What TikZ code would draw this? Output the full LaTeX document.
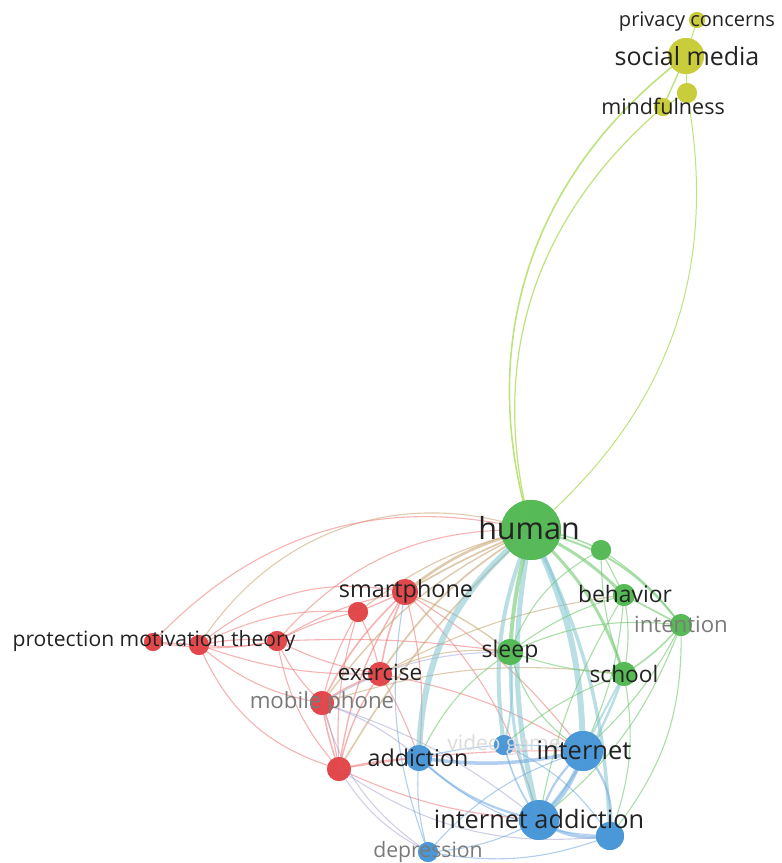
\documentclass[tikz,border=0pt]{standalone}
\usepackage{fontspec}
\setmainfont{Open Sans}
\definecolor{ycol}{HTML}{C9CD3A}
\definecolor{gcol}{HTML}{55B955}
\definecolor{rcol}{HTML}{E2474A}
\definecolor{bcol}{HTML}{4A97D8}
\definecolor{cer}{HTML}{F08080}
\definecolor{ceg}{HTML}{70C870}
\definecolor{ceb}{HTML}{70A8E0}
\definecolor{cet}{HTML}{80C4D0}
\definecolor{ceo}{HTML}{C8A878}
\definecolor{cey}{HTML}{A8D850}
\definecolor{cep}{HTML}{A0A0D0}
\definecolor{labc}{HTML}{222222}
\definecolor{labg}{HTML}{7A7A7A}
\tikzset{
  nd/.style={circle,inner sep=0pt,draw=none,fill opacity=0.9,minimum size=#1},
  yn/.style={nd=#1,fill=ycol},
  gn/.style={nd=#1,fill=gcol},
  rn/.style={nd=#1,fill=rcol},
  bn/.style={nd=#1,fill=bcol},
  er/.style={draw=cer,line width=#1,draw opacity=0.6},
  er/.default=1.1,
  eg/.style={draw=ceg,line width=#1,draw opacity=0.6},
  eg/.default=1.1,
  eb/.style={draw=ceb,line width=#1,draw opacity=0.55},
  eb/.default=1.1,
  et/.style={draw=cet,line width=#1,draw opacity=0.55},
  et/.default=1.2,
  eo/.style={draw=ceo,line width=#1,draw opacity=0.6},
  eo/.default=1.1,
  ey/.style={draw=cey,line width=#1,draw opacity=0.75},
  ey/.default=1,
  ep/.style={draw=cep,line width=#1,draw opacity=0.5},
  ep/.default=1.1,
  lab/.style={inner sep=0pt,text=labc,font=\fontsize{#1}{#1}\selectfont},
  lab/.default=22.5,
  labgr/.style={lab=#1,text=labg},
  labgr/.default=22,
}
\begin{document}
\begin{tikzpicture}[x=1pt,y=1pt]
\useasboundingbox (0,0) rectangle (782,-863);
% nodes (positions)
\node[yn=16] (pc) at (697,-20) {};
\node[yn=36] (sm) at (686,-56) {};
\node[yn=20] (mf1) at (687,-93) {};
\node[yn=18] (mf2) at (663,-107) {};
\node[gn=60] (hu) at (531,-530) {};
\node[gn=20] (g1) at (601,-550) {};
\node[gn=22] (be) at (624,-595) {};
\node[gn=22] (in) at (681,-625) {};
\node[gn=26] (sl) at (510,-652) {};
\node[gn=24] (sc) at (624,-674) {};
\node[rn=26] (sp) at (405,-592) {};
\node[rn=20] (r1) at (358,-612) {};
\node[rn=18] (p1) at (153,-642) {};
\node[rn=20] (p2) at (199,-645) {};
\node[rn=20] (p3) at (277,-641) {};
\node[rn=24] (ex) at (380,-674) {};
\node[rn=24] (mp) at (322,-703) {};
\node[rn=24] (r2) at (339,-769) {};
\node[bn=26] (ad) at (419,-758) {};
\node[bn=20] (vg) at (504,-745) {};
\node[bn=40] (it) at (583,-751) {};
\node[bn=40] (ia) at (539,-820) {};
\node[bn=28] (b1) at (610,-836) {};
\node[bn=20] (de) at (428,-852) {};
\begin{scope}
% yellow
\draw[ey=1.6] (hu.center) to[bend left=35] (sm.center);
\draw[ey=1.2] (hu.center) to[bend left=32] (mf2.center);
\draw[ey=1] (hu.center) to[bend right=30] (mf1.center);
\draw[ey] (sm.center) -- (pc.center);
\draw[ey=1.4] (sm.center) -- (mf2.center);
\draw[ey] (sm.center) -- (mf1.center);
\draw[ey] (mf1.center) -- (mf2.center);
% long arcs from PMT
\draw[eo] (p2.center) to[bend left=38] (hu.center);
\draw[er] (p1.center) to[bend left=30] (hu.center);
\draw[er] (p3.center) to[bend left=25] (hu.center);
\draw[er] (p2.center) to[bend left=25] (sp.center);
% red cluster
\draw[er=1.3] (p1.center) -- (p2.center);
\draw[er] (p1.center) to[bend right=10] (p3.center);
\draw[er=1.3] (p2.center) to[bend left=8] (p3.center);
\draw[er] (p2.center) to[bend right=8] (p3.center);
\draw[er] (p2.center) to[bend left=15] (r1.center);
\draw[er] (p2.center) to[bend right=10] (ex.center);
\draw[er] (p2.center) to[bend right=15] (mp.center);
\draw[er] (p2.center) to[bend right=25] (r2.center);
\draw[er] (p3.center) to[bend left=10] (sp.center);
\draw[er] (p3.center) to[bend left=8] (r1.center);
\draw[er] (p3.center) to[bend right=8] (ex.center);
\draw[er] (p3.center) to[bend right=10] (mp.center);
\draw[er] (p3.center) to[bend right=15] (r2.center);
\draw[er] (p3.center) to[bend left=5] (sl.center);
\draw[er=1.3] (r1.center) -- (sp.center);
\draw[er] (r1.center) to[bend left=8] (ex.center);
\draw[er] (r1.center) to[bend right=8] (mp.center);
\draw[er] (r1.center) to[bend right=10] (r2.center);
\draw[er=1.6] (sp.center) to[bend right=8] (ex.center);
\draw[er=1.6] (sp.center) to[bend right=10] (mp.center);
\draw[er=1.4] (sp.center) to[bend right=12] (r2.center);
\draw[er] (sp.center) to[bend left=10] (ad.center);
\draw[er] (sp.center) to[bend left=15] (ia.center);
\draw[er] (sp.center) to[bend left=10] (it.center);
\draw[er=1.6] (ex.center) to[bend right=8] (mp.center);
\draw[er=1.4] (ex.center) to[bend right=10] (r2.center);
\draw[er] (ex.center) to[bend left=5] (ad.center);
\draw[er] (ex.center) to[bend left=10] (it.center);
\draw[er=1.6] (mp.center) to[bend right=5] (r2.center);
\draw[er] (mp.center) to[bend left=5] (r2.center);
\draw[ep] (mp.center) to[bend left=10] (ad.center);
\draw[ep] (mp.center) to[bend left=10] (ia.center);
\draw[ep] (mp.center) to[bend left=15] (sl.center);
\draw[er=1.5] (r2.center) to[bend left=5] (ad.center);
\draw[er] (r2.center) to[bend right=10] (ia.center);
\draw[er] (r2.center) to[bend left=5] (it.center);
\draw[ep] (r2.center) to[bend right=15] (de.center);
\draw[ep] (r2.center) to[bend right=20] (b1.center);
% olive (red-green)
\draw[eo=2.6] (sp.center) to[bend left=12] (hu.center);
\draw[eo=1.8] (sp.center) to[bend left=4] (hu.center);
\draw[eo=1.8] (ex.center) to[bend left=12] (hu.center);
\draw[eo=1.4] (mp.center) to[bend left=14] (hu.center);
\draw[eo=1.2] (r1.center) to[bend left=12] (hu.center);
\draw[eo=1.6] (r2.center) to[bend left=8] (hu.center);
\draw[eo=1.4] (sp.center) to[bend left=8] (sl.center);
\draw[eo] (ex.center) to[bend left=15] (sl.center);
\draw[eo] (ex.center) to[bend left=10] (be.center);
\draw[eo] (mp.center) to[bend left=12] (sc.center);
% thick teal from human
\draw[et=6] (hu.center) to[bend right=25] (ad.center);
\draw[et=5] (hu.center) to[bend right=12] (ia.center);
\draw[et=6] (hu.center) to[bend left=12] (it.center);
\draw[et=4] (hu.center) to[bend right=15] (vg.center);
\draw[et=3.5] (hu.center) to[bend left=12] (b1.center);
\draw[et=3] (sl.center) to[bend right=10] (ia.center);
\draw[et=2] (sl.center) to[bend left=10] (vg.center);
\draw[et=2.5] (sc.center) to[bend left=10] (ia.center);
\draw[et=2] (sc.center) -- (it.center);
% green
\draw[eg=4] (hu.center) to[bend right=6] (sl.center);
\draw[eg=3] (hu.center) to[bend left=10] (be.center);
\draw[eg=3] (hu.center) to[bend left=14] (sc.center);
\draw[eg=2] (hu.center) to[bend left=20] (in.center);
\draw[eg=1.5] (hu.center) to[bend left=10] (g1.center);
\draw[eg] (g1.center) -- (be.center);
\draw[eg] (g1.center) to[bend left=10] (in.center);
\draw[eg] (g1.center) to[bend right=10] (sc.center);
\draw[eg] (g1.center) to[bend right=20] (sl.center);
\draw[eg=1.7] (be.center) -- (in.center);
\draw[eg] (be.center) to[bend left=10] (sc.center);
\draw[eg=1.6] (in.center) to[bend left=8] (sc.center);
\draw[eg] (sl.center) to[bend left=10] (be.center);
\draw[eg] (sl.center) to[bend right=8] (sc.center);
\draw[eg] (sl.center) to[bend left=15] (in.center);
\draw[eg] (be.center) to[bend left=10] (it.center);
\draw[eg] (in.center) to[bend left=10] (it.center);
\draw[eg] (in.center) to[bend left=15] (ia.center);
\draw[eg] (in.center) to[bend left=20] (b1.center);
\draw[eg] (sl.center) to[bend right=20] (it.center);
\draw[eg] (sl.center) to[bend right=15] (ad.center);
\draw[eg] (sc.center) to[bend left=15] (b1.center);
\draw[eg] (sc.center) to[bend right=10] (vg.center);
\draw[eg] (be.center) to[bend right=10] (ia.center);
% blue
\draw[eb=3.5] (ad.center) to[bend right=10] (it.center);
\draw[eb=2.2] (ad.center) to[bend right=15] (ia.center);
\draw[eb] (ad.center) to[bend left=5] (vg.center);
\draw[eb] (ad.center) to[bend right=10] (de.center);
\draw[eb] (ad.center) to[bend right=20] (b1.center);
\draw[eb] (vg.center) to[bend left=5] (it.center);
\draw[eb=1.6] (vg.center) to[bend right=10] (ia.center);
\draw[eb] (vg.center) to[bend left=15] (b1.center);
\draw[eb=4.5] (it.center) to[bend left=15] (ia.center);
\draw[eb=2.2] (it.center) to[bend right=15] (ia.center);
\draw[eb=2.2] (it.center) to[bend left=25] (b1.center);
\draw[eb=3.5] (ia.center) to[bend right=20] (b1.center);
\draw[eb] (de.center) to[bend right=12] (ia.center);
\draw[eb] (de.center) to[bend left=15] (it.center);
\draw[eb] (de.center) to[bend right=15] (b1.center);
\draw[eb] (de.center) to[bend left=15] (sp.center);
\draw[ep] (de.center) to[bend left=20] (mp.center);
\end{scope}
% redraw nodes on top
\foreach \n/\s/\c/\x/\y in {pc/16/ycol/697/20, sm/36/ycol/686/56, mf1/20/ycol/687/93, mf2/18/ycol/663/107,
  hu/60/gcol/531/530, g1/20/gcol/601/550, be/22/gcol/624/595, in/22/gcol/681/625, sl/26/gcol/510/652, sc/24/gcol/624/674,
  sp/26/rcol/405/592, r1/20/rcol/358/612, p1/18/rcol/153/642, p2/20/rcol/199/645, p3/20/rcol/277/641,
  ex/24/rcol/380/674, mp/24/rcol/322/703, r2/24/rcol/339/769,
  ad/26/bcol/419/758, vg/20/bcol/504/745, it/40/bcol/583/751, ia/40/bcol/539/820, b1/28/bcol/610/836, de/20/bcol/428/852}
  {\fill[\c,opacity=0.92] (\x,-\y) circle (\s/2);}
% labels
\node[lab=20] (lpc) at (697,-22) {privacy concerns};
\node[lab=25] (lsm) at (687,-56) {social media};
\node[lab=21.5] (lmf) at (663,-106) {mindfulness};
\node[lab=30.5] (lhu) at (529,-528) {human};
\node[lab=22.8] (lbe) at (625,-594) {behavior};
\node[labgr=22.2] (lin) at (681,-624) {intention};
\node[lab=23] (lsl) at (510,-652) {sleep};
\node[lab=22.7] (lsc) at (624,-674) {school};
\node[lab=23.4] (lsp) at (406,-591) {smartphone};
\node[lab=21.1] (lpmt) at (154,-641) {protection motivation theory};
\node[lab=22.4] (lex) at (380,-672) {exercise};
\node[labgr=22.3] (lmp) at (322,-703) {mobile phone};
\node[lab=23.2] (lad) at (418,-758) {addiction};
\node[labgr=21,text=black!14] (lvg) at (504,-745) {video game};
\node[lab=25.5] (lit) at (584,-750) {internet};
\node[lab=25.3] (lia) at (539,-819) {internet addiction};
\node[labgr=21.2] (lde) at (428,-852) {depression};
\end{tikzpicture}
\end{document}
